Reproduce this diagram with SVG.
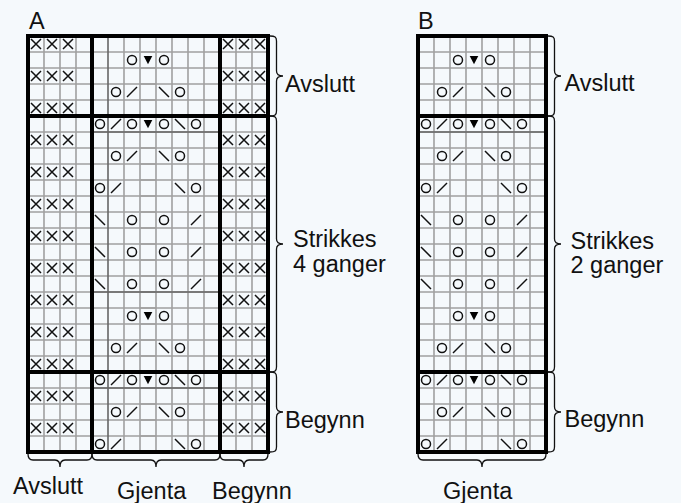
<svg xmlns="http://www.w3.org/2000/svg" xmlns:xlink="http://www.w3.org/1999/xlink" width="681" height="503" viewBox="0 0 681 503">
<style>
text{font-family:"Liberation Sans",Arial,sans-serif;font-size:23.5px;fill:#111}
.g{stroke:#a0a0a0;stroke-width:1.6;fill:none}
.d{stroke:#666;stroke-width:1.6;fill:none}
.t{stroke:#000;stroke-width:4;fill:none;stroke-linecap:square}
.s{stroke:#111;stroke-width:1.5;fill:none}
.b{stroke:#111;stroke-width:1.3;fill:none}
</style>
<defs>
<g id="o"><circle r="4.5" class="s"/></g>
<path id="f" d="M-5 5L5-5" class="s"/>
<path id="k" d="M-5-5L5 5" class="s"/>
<path id="v" d="M-4.3-4H4.3L0 4.2Z" fill="#000"/>
<path id="x" d="M-5-5L5 5M-5 5L5-5" class="s"/>
<g id="xxx"><use xlink:href="#x" x="8"/><use xlink:href="#x" x="24"/><use xlink:href="#x" x="40"/></g>
<g id="r1"><use xlink:href="#o" x="40"/><use xlink:href="#v" x="56"/><use xlink:href="#o" x="72"/></g>
<g id="r3"><use xlink:href="#o" x="24"/><use xlink:href="#f" x="40"/><use xlink:href="#k" x="72"/><use xlink:href="#o" x="88"/></g>
<g id="r5"><use xlink:href="#o" x="8"/><use xlink:href="#f" x="24"/><use xlink:href="#o" x="40"/><use xlink:href="#v" x="56"/><use xlink:href="#o" x="72"/><use xlink:href="#k" x="88"/><use xlink:href="#o" x="104"/></g>
<g id="r9"><use xlink:href="#o" x="8"/><use xlink:href="#f" x="24"/><use xlink:href="#k" x="88"/><use xlink:href="#o" x="104"/></g>
<g id="r11"><use xlink:href="#k" x="8"/><use xlink:href="#o" x="40"/><use xlink:href="#o" x="72"/><use xlink:href="#f" x="104"/></g>
<path id="hl" d="M0 52H128M0 68H128M0 84H128M0 100H128M0 132H128M0 148H128M0 164H128M0 180H128M0 196H128M0 212H128M0 228H128M0 244H128M0 260H128M0 276H128M0 292H128M0 308H128M0 324H128M0 340H128M0 356H128M0 388H128M0 404H128M0 420H128M0 436H128"/>
<path id="vl" d="M16 36V452M32 36V452M48 36V452M64 36V452M80 36V452M96 36V452M112 36V452"/>
<g id="gj">
<use xlink:href="#r1" y="60"/><use xlink:href="#r3" y="92"/><use xlink:href="#r5" y="124"/><use xlink:href="#r3" y="156"/><use xlink:href="#r9" y="188"/>
<use xlink:href="#r11" y="220"/><use xlink:href="#r11" y="252"/><use xlink:href="#r11" y="284"/>
<use xlink:href="#r1" y="316"/><use xlink:href="#r3" y="348"/><use xlink:href="#r5" y="380"/><use xlink:href="#r3" y="412"/><use xlink:href="#r9" y="444"/>
</g>
<g id="xc">
<use xlink:href="#xxx" y="44"/><use xlink:href="#xxx" y="76"/><use xlink:href="#xxx" y="108"/><use xlink:href="#xxx" y="140"/><use xlink:href="#xxx" y="172"/><use xlink:href="#xxx" y="204"/><use xlink:href="#xxx" y="236"/><use xlink:href="#xxx" y="268"/><use xlink:href="#xxx" y="300"/><use xlink:href="#xxx" y="332"/><use xlink:href="#xxx" y="364"/><use xlink:href="#xxx" y="396"/><use xlink:href="#xxx" y="428"/>
</g>
<path id="br80" class="b" d="M0 0C5 0 6.500 1 6.500 5V35C6.500 38 8.500 40 13 40C8.500 40 6.500 42 6.500 45V75C6.500 79 5 80 0 80"/>
<path id="br256" class="b" d="M0 0C5 0 6.500 1 6.500 5V123C6.500 126 8.500 128 13 128C8.500 128 6.500 130 6.500 133V251C6.500 255 5 256 0 256"/>
</defs>
<rect width="681" height="503" fill="#f5f9fc"/>
<g id="chart-a">
<g class="g">
<use xlink:href="#hl" x="28"/><use xlink:href="#hl" x="140"/>
<path d="M44 36V452M60 36V452M76 36V452M124 36V452M140 36V452M156 36V452M172 36V452M188 36V452M204 36V452M236 36V452M252 36V452"/>
</g>
<path class="d" d="M108 36V452M92 132H220M92 292H220M92 388H220"/>
<path class="t" d="M28 36H268V452H28ZM92 36V452M220 36V452M28 116H268M28 372H268"/>
<use xlink:href="#xc" x="28"/><use xlink:href="#xc" x="220"/>
<use xlink:href="#gj" x="92"/>
</g>
<g id="chart-b">
<g class="g">
<use xlink:href="#hl" x="418"/>
<use xlink:href="#vl" x="418"/>
</g>
<path class="d" d="M418 132H546"/>
<path class="t" d="M418 36H546V452H418ZM418 116H546M418 372H546"/>
<use xlink:href="#gj" x="418"/>
</g>
<g id="braces">
<use xlink:href="#br80" x="270" y="36"/><use xlink:href="#br256" x="270" y="116"/><use xlink:href="#br80" x="270" y="372"/>
<use xlink:href="#br80" x="548" y="36"/><use xlink:href="#br256" x="548" y="116"/><use xlink:href="#br80" x="548" y="372"/>
<path class="b" d="M28 454C28 458 29 460 33 460H55C58 460 60 462 60 467C60 462 62 460 65 460H87C91 460 92 458 92 454"/>
<path class="b" d="M92 454C92 458 93 460 97 460H151C154 460 156 462 156 467C156 462 158 460 161 460H215C219 460 220 458 220 454"/>
<path class="b" d="M220 454C220 458 221 460 225 460H239C242 460 244 462 244 467C244 462 246 460 249 460H263C267 460 268 458 268 454"/>
<path class="b" d="M418 454C418 458 419 460 423 460H477C480 460 482 462 482 467C482 462 484 460 487 460H541C545 460 546 458 546 454"/>
</g>
<g id="labels">
<text x="29" y="29">A</text>
<text x="418" y="29">B</text>
<text x="285" y="92">Avslutt</text>
<text x="293" y="246.500">Strikkes</text>
<text x="293" y="271.500">4 ganger</text>
<text x="285" y="428">Begynn</text>
<text x="564.500" y="91">Avslutt</text>
<text x="570.500" y="248.500">Strikkes</text>
<text x="570.500" y="273">2 ganger</text>
<text x="564.500" y="427">Begynn</text>
<text x="13" y="494">Avslutt</text>
<text x="117" y="498.500">Gjenta</text>
<text x="212" y="498.500">Begynn</text>
<text x="443" y="498.500">Gjenta</text>
</g>
</svg>
